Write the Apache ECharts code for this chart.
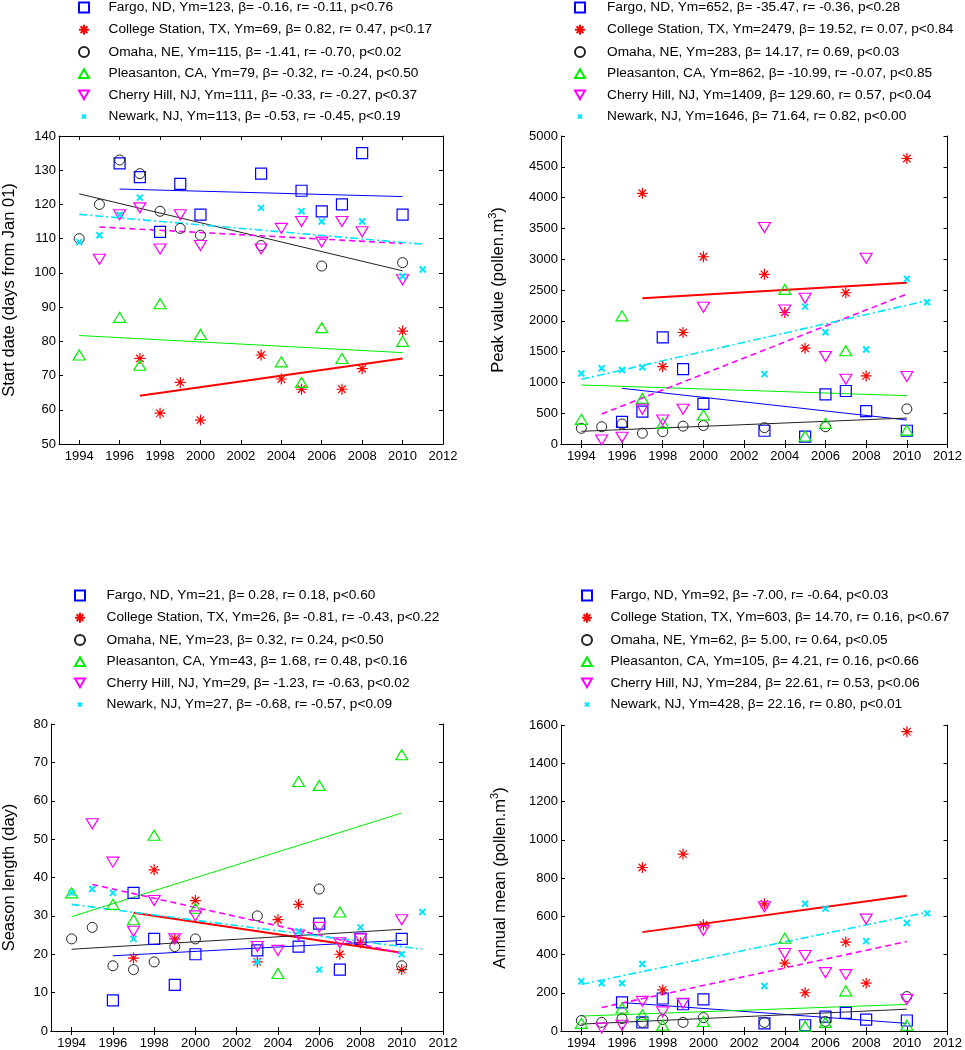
<!DOCTYPE html>
<html><head><meta charset="utf-8">
<script src="https://cdn.jsdelivr.net/npm/echarts@6/dist/echarts.min.js"></script>
<style>html,body{margin:0;padding:0;background:#fff}#c{width:965px;height:1050px}</style>
</head><body><div id="c"></div><script>
// ---------- data ----------
const xTicks = [1994,1996,1998,2000,2002,2004,2006,2008,2010,2012];

const yearsFargo = [1996,1997,1998,1999,2000,2003,2005,2006,2007,2008,2010];
const yearsCollege = [1997,1998,1999,2000,2003,2004,2005,2007,2008,2010];
const yearsOmaha = [1994,1995,1996,1997,1998,1999,2000,2003,2006,2010];
const yearsPleasanton = [1994,1996,1997,1998,2000,2004,2005,2006,2007,2010];
const yearsCherry = [1995,1996,1997,1998,1999,2000,2003,2004,2005,2006,2007,2008,2010];
const yearsNewark = [1994,1995,1996,1997,2003,2005,2006,2008,2010,2011];

// Panel 1: start date
const startFargo = [132,128,112,126,117,129,124,118,120,135,117];
const startCollege = [75,59,68,57,76,69,66,66,72,83];
const startOmaha = [110,120,133,129,118,113,111,108,102,103];
const startPleasanton = [76,87,73,91,82,74,68,84,75,80];
const startCherry = [104,117,119,107,117,108,107,113,115,109,115,112,98];
const startNewark = [109,111,117,122,119,118,115,115,99,101];
const startFits = [[1996,124.5,2010,122.3],[1997,64.1,2010,75],[1994,123.1,2010,100.6],[1994,81.7,2010,76.7],[1995,113.4,2010,108.6],[1994,117.1,2011,108.4]];
const startLabels = [
 'Fargo, ND, Ym=123, β= -0.16, r= -0.11, p<0.76',
 'College Station, TX, Ym=69, β= 0.82, r= 0.47, p<0.17',
 'Omaha, NE, Ym=115, β= -1.41, r= -0.70, p<0.02',
 'Pleasanton, CA, Ym=79, β= -0.32, r= -0.24, p<0.50',
 'Cherry Hill, NJ, Ym=111, β= -0.33, r= -0.27, p<0.37',
 'Newark, NJ, Ym=113, β= -0.53, r= -0.45, p<0.19'];

// Panel 2: peak value
const peakFargo = [360,525,1730,1215,650,215,120,805,860,535,215];
const peakCollege = [4070,1255,1810,3040,2755,2135,1555,2455,1105,4635];
const peakOmaha = [255,280,325,175,200,290,300,265,280,570];
const peakPleasanton = [400,2080,740,335,470,2510,130,335,1515,225];
const peakCherry = [65,110,565,390,565,2220,3515,2175,2365,1420,1050,3015,1095];
const peakNewark = [1145,1230,1200,1245,1135,2230,1815,1535,2680,2300];
const peakFits = [[1996,904,2010,390],[1997,2365,2010,2619],[1994,206,2010,422],[1994,958,2010,785],[1995,487,2010,2435],[1994,1050,2011,2327]];
const peakLabels = [
 'Fargo, ND, Ym=652, β= -35.47, r= -0.36, p<0.28',
 'College Station, TX, Ym=2479, β= 19.52, r= 0.07, p<0.84',
 'Omaha, NE, Ym=283, β= 14.17, r= 0.69, p<0.03',
 'Pleasanton, CA, Ym=862, β= -10.99, r= -0.07, p<0.85',
 'Cherry Hill, NJ, Ym=1409, β= 129.60, r= 0.57, p<0.04',
 'Newark, NJ, Ym=1646, β= 71.64, r= 0.82, p<0.00'];

// Panel 3: season length
const seasonFargo = [8,36,24,12,20,21,22,28,16,24,24];
const seasonCollege = [19,42,24,34,18,29,33,20,23,16];
const seasonOmaha = [24,27,17,16,18,22,24,30,37,17];
const seasonPleasanton = [36,33,29,51,32,15,65,64,31,72];
const seasonCherry = [54,44,26,34,24,30,22,21,25,27,23,24,29];
const seasonNewark = [36,37,36,24,18,26,16,27,20,31];
const seasonFits = [[1996,19.6,2010,23.6],[1997,30.8,2010,20.4],[1994,21.3,2010,26.5],[1994,29.8,2010,56.8],[1995,38.2,2010,20.2],[1994,33,2011,21.3]];
const seasonLabels = [
 'Fargo, ND, Ym=21, β= 0.28, r= 0.18, p<0.60',
 'College Station, TX, Ym=26, β= -0.81, r= -0.43, p<0.22',
 'Omaha, NE, Ym=23, β= 0.32, r= 0.24, p<0.50',
 'Pleasanton, CA, Ym=43, β= 1.68, r= 0.48, p<0.16',
 'Cherry Hill, NJ, Ym=29, β= -1.23, r= -0.63, p<0.02',
 'Newark, NJ, Ym=27, β= -0.68, r= -0.57, p<0.09'];

// Panel 4: annual mean
const meanFargo = [150,45,170,140,165,40,30,75,95,60,55];
const meanCollege = [855,215,925,555,665,355,200,465,250,1565];
const meanOmaha = [55,45,65,45,60,45,70,45,50,180];
const meanPleasanton = [40,120,85,30,50,485,25,45,210,30];
const meanCherry = [15,30,155,100,145,525,650,405,395,305,295,585,165];
const meanNewark = [260,250,250,350,235,665,640,470,565,615];
const meanFits = [[1996,149,2010,40],[1997,517,2010,707],[1994,36,2010,114],[1994,78,2010,139],[1995,123,2010,468],[1994,244,2011,621]];
const meanLabels = [
 'Fargo, ND, Ym=92, β= -7.00, r= -0.64, p<0.03',
 'College Station, TX, Ym=603, β= 14.70, r= 0.16, p<0.67',
 'Omaha, NE, Ym=62, β= 5.00, r= 0.64, p<0.05',
 'Pleasanton, CA, Ym=105, β= 4.21, r= 0.16, p<0.66',
 'Cherry Hill, NJ, Ym=284, β= 22.61, r= 0.53, p<0.06',
 'Newark, NJ, Ym=428, β= 22.16, r= 0.80, p<0.01'];

// ---------- styling ----------
const FONT = 'Liberation Sans, Arial, sans-serif';
const years = [yearsFargo, yearsCollege, yearsOmaha, yearsPleasanton, yearsCherry, yearsNewark];
const cityStyles = [
  {color:'#0000ff', symbol:'path://M0,0L10,0L10,10L0,10Z', size:[11,11], bw:1.2, line:{width:1, type:'solid'}},
  {color:'#ff0000', symbol:'path://M0,5L10,5M5,0L5,10M1.6,1.6L8.4,8.4M8.4,1.6L1.6,8.4', size:[11,11], bw:1.2, line:{width:2, type:'solid'}},
  {color:'#222222', symbol:'circle', size:10, bw:1, line:{width:1, type:'solid'}},
  {color:'#00ee00', symbol:'path://M5,0L10,8.66L0,8.66Z', size:[12,10], bw:1.2, line:{width:1, type:'solid'}},
  {color:'#ff00ff', symbol:'path://M0,0L10,0L5,8.66Z', size:[12,10], bw:1.2, line:{width:1.6, type:[6,4]}},
  {color:'#00e5ff', symbol:'path://M0,0L0,0M10,10L10,10M3,3L7,7M7,3L3,7', size:[15,15], bw:2, line:{width:1.6, type:[8,3,2,3]}}
];

const panels = [
  {vals:[startFargo,startCollege,startOmaha,startPleasanton,startCherry,startNewark], fits:startFits, labels:startLabels,
   grid:{left:50,top:136,width:393,height:308}, ymin:50, ymax:140, yint:10,
   yname:'Start date (days from Jan 01)', nameGap:41, lgLeft:76.5, lgTop:0, lgPad:14.5},
  {vals:[peakFargo,peakCollege,peakOmaha,peakPleasanton,peakCherry,peakNewark], fits:peakFits, labels:peakLabels,
   grid:{left:561,top:136,width:389,height:308}, ymin:0, ymax:5000, yint:500,
   yname:'Peak value (pollen.m{sup|3})', nameGap:51, lgLeft:572.5, lgTop:0, lgPad:17},
  {vals:[seasonFargo,seasonCollege,seasonOmaha,seasonPleasanton,seasonCherry,seasonNewark], fits:seasonFits, labels:seasonLabels,
   grid:{left:50,top:724,width:393,height:308}, ymin:0, ymax:80, yint:10,
   yname:'Season length (day)', nameGap:33, lgLeft:72.5, lgTop:588, lgPad:16.5},
  {vals:[meanFargo,meanCollege,meanOmaha,meanPleasanton,meanCherry,meanNewark], fits:meanFits, labels:meanLabels,
   grid:{left:561,top:725,width:389,height:308}, ymin:0, ymax:1600, yint:200,
   yname:'Annual mean (pollen.m{sup|3})', nameGap:49, lgLeft:579.5, lgTop:588, lgPad:13.5}
];

const plain = v => String(v);
const grids = [], xAxes = [], yAxes = [], series = [], legends = [];
const axisLineStyle = {show:true, lineStyle:{color:'#000', width:1}};

panels.forEach((p, pi) => {
  grids.push(Object.assign({containLabel:false}, p.grid));
  xAxes.push({type:'value', gridIndex:pi, min:1993, max:2012, position:'bottom',
    axisLine:axisLineStyle, splitLine:{show:false},
    axisTick:{inside:true, length:4, customValues:xTicks, lineStyle:{color:'#000'}},
    axisLabel:{customValues:xTicks, formatter:plain, fontSize:13, fontFamily:FONT, color:'#000', margin:6}});
  xAxes.push({type:'value', gridIndex:pi, min:1993, max:2012, position:'top',
    axisLine:axisLineStyle, splitLine:{show:false},
    axisTick:{inside:true, length:4, customValues:xTicks, lineStyle:{color:'#000'}},
    axisLabel:{show:false}});
  yAxes.push({type:'value', gridIndex:pi, min:p.ymin, max:p.ymax, interval:p.yint, position:'left',
    axisLine:axisLineStyle, splitLine:{show:false},
    axisTick:{inside:true, length:4, lineStyle:{color:'#000'}},
    axisLabel:{formatter:plain, fontSize:13, fontFamily:FONT, color:'#000', margin:3},
    name:p.yname, nameLocation:'middle', nameGap:p.nameGap,
    nameTextStyle:{fontSize:16.5, fontFamily:FONT, color:'#000',
      rich:{sup:{fontSize:11, fontFamily:FONT, color:'#000', padding:[0,0,12,0]}}}});
  yAxes.push({type:'value', gridIndex:pi, min:p.ymin, max:p.ymax, interval:p.yint, position:'right',
    axisLine:axisLineStyle, splitLine:{show:false},
    axisTick:{inside:true, length:4, lineStyle:{color:'#000'}},
    axisLabel:{show:false}});

  p.vals.forEach((vals, ci) => {
    const st = cityStyles[ci];
    series.push({
      type:'scatter', name:p.labels[ci], xAxisIndex:2*pi, yAxisIndex:2*pi,
      symbol:st.symbol, symbolSize:st.size,
      itemStyle:{color:'none', borderColor:st.color, borderWidth:st.bw, opacity:1},
      emphasis:{disabled:true},
      data: years[ci].map((y, k) => [y, vals[k]]),
      z:3
    });
    const f = p.fits[ci];
    series.push({
      type:'line', name:'fit'+pi+'_'+ci, xAxisIndex:2*pi, yAxisIndex:2*pi,
      symbol:'none', silent:true,
      lineStyle:{color:st.color, width:st.line.width, type:st.line.type},
      data:[[f[0],f[1]],[f[2],f[3]]],
      z:2
    });
  });

  legends.push({
    orient:'vertical', left:p.lgLeft, top:p.lgTop, padding:0,
    itemWidth:10, itemHeight:10, itemGap:7.2, selectedMode:false,
    data:p.labels,
    textStyle:{fontSize:13.7, fontFamily:FONT, color:'#000', lineHeight:14, padding:[0,0,0,p.lgPad]}
  });
});

const chart = echarts.init(document.getElementById('c'), null, {renderer:'canvas'});
chart.setOption({
  animation:false,
  backgroundColor:'#fff',
  grid:grids, xAxis:xAxes, yAxis:yAxes, legend:legends, series:series
});
</script></body></html>
